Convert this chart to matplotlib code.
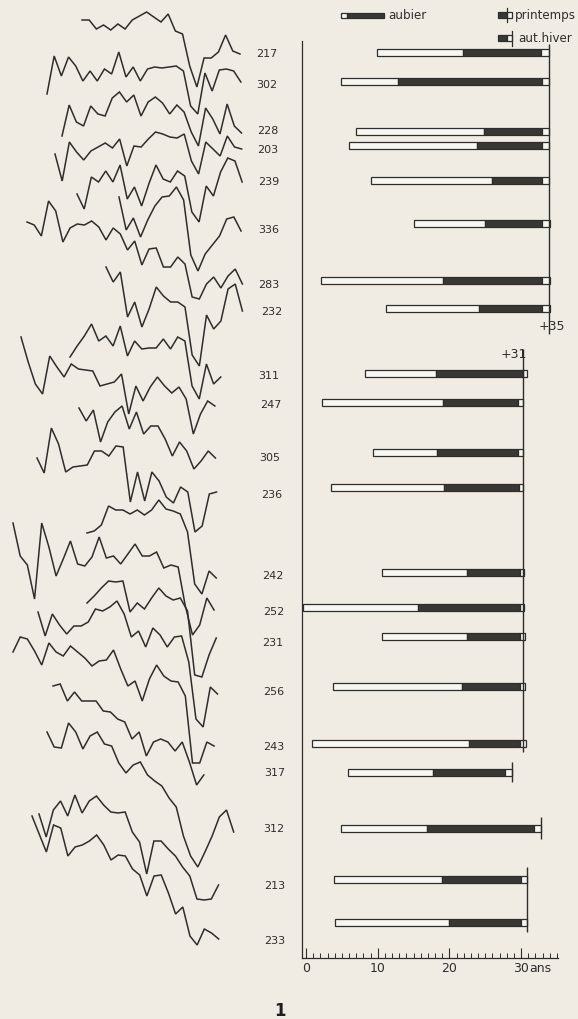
import matplotlib.pyplot as plt
from matplotlib.patches import Rectangle
from matplotlib.ticker import MultipleLocator

W, H = 578, 1020
BG = '#f0ece4'
INK = '#2e2d2b'
FILL = '#3a3835'
PAPER = '#f8f6f1'
NARROW = ['Liberation Sans Narrow', 'DejaVu Sans']

# samples, top to bottom
ids = [217, 302, 228, 203, 239, 336, 283, 232, 311, 247, 305, 236,
       242, 252, 231, 256, 243, 317, 312, 213, 233]
# years from the pith side: white part, black part (aubier), last ring, bark
heart_start = [9.9, 4.9, 7.0, 6.0, 9.1, 15.1, 2.1, 11.2, 8.2, 2.2, 9.4, 3.5,
               10.6, -0.4, 10.6, 3.7, 0.8, 5.9, 4.9, 3.9, 4.0]
sap_start = [21.9, 12.8, 24.8, 23.9, 25.9, 25.0, 19.1, 24.1, 18.1, 19.1, 18.3, 19.3,
             22.5, 15.6, 22.5, 21.7, 22.7, 17.7, 16.9, 19.0, 19.9]
last_start = [32.8, 32.9, 32.9, 32.9, 32.9, 32.9, 32.9, 32.9, 30.3, 29.6, 29.6, 29.7,
              29.8, 29.8, 29.8, 29.8, 29.8, 27.8, 31.8, 30.0, 30.0]
bark_end = [33.9, 33.9, 33.9, 33.9, 33.9, 34.0, 34.0, 34.0, 30.8, 30.3, 30.3, 30.3,
            30.4, 30.4, 30.5, 30.6, 30.7, 28.7, 32.8, 30.8, 30.8]

# felling lines
ref_year = [33.9, 30.3, 28.7, 32.8, 30.8]
ref_text = ['+35', '+31', '', '', '']

# ring-width curves, one point per year (rows)
c217 = [21, 21, 30, 26, 31, 25, 30, 21, 17, 13, 18, 23, 15, 32, 35, 67, 88, 59, 59, 53, 36, 52, 55]
c302 = [95, 57, 77, 58, 67, 82, 72, 82, 70, 75, 53, 78, 68, 82, 70, 68, 69, 68, 67, 72,
        107, 115, 74, 92, 71, 70, 72, 83]
c228 = [137, 106, 123, 127, 107, 115, 117, 99, 93, 103, 96, 117, 103, 98, 104, 115, 106, 113,
        133, 147, 109, 120, 135, 105, 127, 134]
c203 = [155, 182, 143, 153, 161, 152, 148, 144, 149, 140, 167, 147, 148, 140, 133, 135, 138,
        139, 135, 162, 175, 143, 150, 157, 137, 148, 150]
c239 = [195, 210, 178, 183, 172, 183, 166, 200, 188, 207, 185, 166, 180, 183, 172, 177, 213,
        223, 187, 197, 173, 159, 162, 183]
c336 = [198, 231, 219, 238, 221, 207, 198, 197, 188, 201, 256, 272, 255, 246, 237, 220, 218, 232]
c283 = [223, 226, 237, 202, 212, 243, 229, 225, 226, 222, 228, 241, 229, 235, 251, 242, 266,
        250, 249, 268, 268, 258, 265, 298, 300, 285, 278, 289, 277, 270, 285]
c232 = [268, 283, 273, 318, 303, 328, 310, 288, 297, 303, 303, 308, 356, 367, 316, 330, 322,
        290, 285, 312]
c311 = [358, 347, 337, 325, 342, 337, 347, 327, 357, 342, 350, 349, 349, 340, 350, 338, 342,
        387, 400, 365, 385, 378]
c247 = [338, 363, 385, 395, 357, 368, 378, 365, 370, 371, 372, 387, 385, 383, 375, 415, 387,
        402, 388, 378, 387, 394, 388, 400, 435, 415, 402, 407]
c305 = [409, 422, 411, 443, 423, 413, 407, 430, 413, 435, 427, 427, 440, 457, 443, 452, 470,
        462, 452, 459]
c236 = [459, 474, 429, 445, 473, 468, 467, 466, 452, 452, 457, 447, 448, 503, 473, 502, 473,
        482, 498, 504, 488, 493, 533, 527, 495, 493]
c242 = [534, 532, 526, 507, 511, 511, 515, 511, 516, 511, 501, 510, 512, 515, 533, 585, 595,
        572, 579]
c252 = [524, 557, 566, 600, 524, 548, 577, 560, 542, 565, 567, 558, 538, 559, 557, 565, 555,
        545, 557, 557, 553, 569, 566, 568, 607, 636, 626, 599, 611]
c231 = [604, 597, 589, 582, 583, 582, 613, 604, 610, 599, 589, 597, 601, 599, 612, 676, 678,
        656, 639]
c256 = [613, 637, 615, 626, 635, 627, 627, 623, 610, 612, 608, 602, 615, 638, 632, 648, 629,
        636, 648, 638, 637, 663, 720, 728, 688, 695]
c243 = [653, 638, 640, 652, 666, 644, 653, 657, 647, 653, 659, 667, 662, 661, 651, 670, 687,
        682, 702, 680, 666, 677, 682, 683, 697, 764, 764, 743, 747]
c317 = [687, 685, 702, 693, 702, 702, 702, 712, 713, 720, 723, 740, 733, 757, 743, 740, 743,
        752, 743, 763, 786, 776]
c312 = [733, 748, 749, 724, 733, 750, 737, 733, 745, 747, 764, 774, 766, 763, 776, 782, 787,
        799, 808, 837, 857, 868, 853, 837, 818, 811, 833]
c213 = [815, 838, 811, 802, 817, 796, 814, 802, 797, 806, 813, 814, 813, 833, 843, 875, 842,
        842, 850, 857, 868, 877, 900, 901, 900, 886]
c233 = [817, 835, 853, 826, 829, 857, 848, 846, 842, 836, 846, 861, 856, 857, 870, 876, 897,
        877, 876, 894, 915, 908, 937, 946, 930, 934, 940]
curves = [c217, c302, c228, c203, c239, c336, c283, c232, c311, c247, c305, c236,
          c242, c252, c231, c256, c243, c317, c312, c213, c233]

# ---- layout (pixels) ----
curve_x0 = [82, 47, 62, 55, 77, 119, 27, 106, 70, 21, 79, 37,
            87, 13, 87, 38, 13, 53, 47, 39, 32]
step = 7.18
bar_rows = [53, 82, 132, 146, 181, 224, 281, 309, 374, 403, 453, 488,
            573, 608, 637, 687, 744, 773, 829, 880, 923]
label_x = [256, 256, 257, 257, 258, 258, 258, 261, 258, 260, 259, 261,
           262, 263, 262, 263, 263, 264, 263, 264, 264]
label_y = [54, 85, 131, 150, 182, 230, 285, 312, 376, 405, 458, 495,
           576, 612, 643, 692, 747, 773, 829, 886, 941]
ref_top = [45, 350, 763, 818, 868]
ref_bottom = [335, 753, 783, 840, 933]
ref_tx = [34.25, 30.8]
ref_ty = [327, 355]
ref_ha = ['center', 'right']
ruler_y = 959
px_per_year = 7.17
x_year0 = 306

fig = plt.figure(figsize=(W / 100, H / 100), dpi=100)
fig.patch.set_facecolor(BG)

ax = fig.add_axes([0, 0, 1, 1])
ax.set_xlim(0, W)
ax.set_ylim(H, 0)
ax.axis('off')

for x0, ys in zip(curve_x0, curves):
    xs = [x0 + step * i for i in range(len(ys))]
    ax.plot(xs, ys, color=INK, lw=1.1, solid_joinstyle='miter')

for sid, lx, ly in zip(ids, label_x, label_y):
    ax.text(lx, ly, str(sid), fontsize=8, family=NARROW, color=INK,
            ha='left', va='center')

# legend
ax.add_patch(Rectangle((341, 13.5), 6, 5, facecolor=PAPER, edgecolor=INK, lw=0.9))
ax.add_patch(Rectangle((347, 13.5), 37, 5, facecolor=FILL, edgecolor=INK, lw=0.9))
ax.text(388, 15.5, 'aubier', fontsize=8.6, color=INK, ha='left', va='center')
for ty, lx, ly0, ly1, txt, tx in [(12.5, 507, 9, 23, 'printemps', 515),
                                  (35.5, 512, 32, 47, 'aut.hiver', 518)]:
    ax.add_patch(Rectangle((498, ty), 9, 6, facecolor=FILL, edgecolor=INK, lw=0.9))
    ax.add_patch(Rectangle((507, ty), 5, 6, facecolor=PAPER, edgecolor=INK, lw=0.9))
    ax.plot([lx, lx], [ly0, ly1], color=INK, lw=0.9)
    ax.text(tx, ty + 2.5, txt, fontsize=8.6, color=INK, ha='left', va='center')

ax.text(280, 1011, '1', fontsize=12, fontweight='bold', color='#1e1e1e',
        ha='center', va='center')

# bars, in years
x_lo, x_hi = -0.5, 35.1
left = x_year0 + x_lo * px_per_year
right = x_year0 + x_hi * px_per_year
axb = fig.add_axes([left / W, (H - ruler_y) / H, (right - left) / W, ruler_y / H])
axb.set_xlim(x_lo, x_hi)
axb.set_ylim(ruler_y, 0)
axb.patch.set_alpha(0)

w_heart = [s - h for h, s in zip(heart_start, sap_start)]
w_sap = [l - s for s, l in zip(sap_start, last_start)]
w_last = [e - l for l, e in zip(last_start, bark_end)]
kw = dict(height=7, edgecolor=INK, linewidth=0.9)
axb.barh(bar_rows, w_heart, left=heart_start, color=PAPER, **kw)
axb.barh(bar_rows, w_sap, left=sap_start, color=FILL, **kw)
axb.barh(bar_rows, w_last, left=last_start, color=PAPER, **kw)

axb.vlines(ref_year, ref_top, ref_bottom, color=INK, lw=1.0)
for i, (tx, ty, ha) in enumerate(zip(ref_tx, ref_ty, ref_ha)):
    axb.text(tx, ty, ref_text[i], fontsize=9, family=NARROW, color=INK,
             ha=ha, va='center')

for s in ['top', 'right']:
    axb.spines[s].set_visible(False)
axb.spines['left'].set_bounds(ruler_y, 42)
axb.spines['bottom'].set_bounds(x_lo, x_hi)
for s in ['left', 'bottom']:
    axb.spines[s].set_color(INK)
    axb.spines[s].set_linewidth(0.9)
axb.set_yticks([])
axb.set_xticks([0, 10, 20, 30])
axb.set_xticklabels(['0', '10', '20', '30'], family=NARROW, fontsize=9, color=INK)
axb.xaxis.set_minor_locator(MultipleLocator(1))
axb.tick_params(axis='x', which='major', direction='in', length=7, width=0.8,
                color=INK, pad=2)
axb.tick_params(axis='x', which='minor', direction='in', length=3.5, width=0.7,
                color=INK)
axb.text(31.1, ruler_y + 10, 'ans', fontsize=9, family=NARROW, color=INK,
         ha='left', va='center', clip_on=False)

fig.savefig('out.png', dpi=100, facecolor=BG)
